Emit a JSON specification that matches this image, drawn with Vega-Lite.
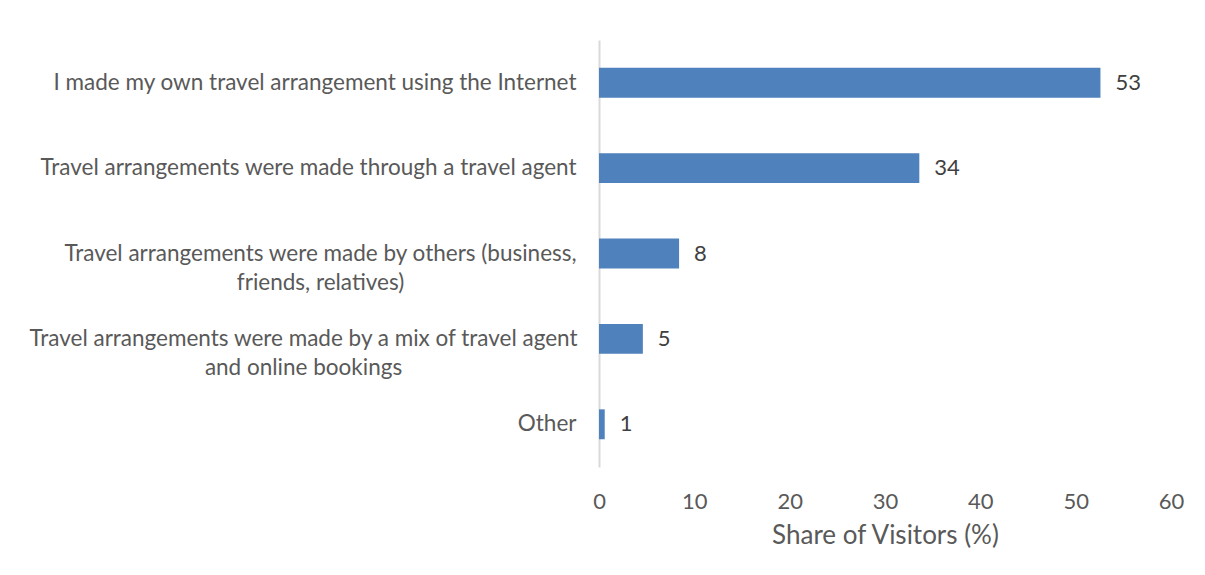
{
  "$schema": "https://vega.github.io/schema/vega-lite/v6.json",
  "autosize": {"type": "none"},
  "padding": {"left": 599, "top": 40, "right": 34, "bottom": 108},
  "width": 572,
  "height": 427,
  "background": "white",
  "config": {
    "view": {"stroke": null},
    "font": "Lato",
    "axis": {"labelFont": "Lato", "titleFont": "Lato"}
  },
  "data": {
    "values": [
      {"category": "I made my own travel arrangement using the Internet", "share": 52.6},
      {"category": "Travel arrangements were made through a travel agent", "share": 33.6},
      {"category": "Travel arrangements were made by others (business,\nfriends, relatives)", "share": 8.4},
      {"category": "Travel arrangements were made by a mix of travel agent\nand online bookings", "share": 4.6},
      {"category": "Other", "share": 0.6}
    ]
  },
  "encoding": {
    "y": {
      "field": "category",
      "type": "nominal",
      "sort": null,
      "scale": {"paddingInner": 0.65, "paddingOuter": 0.325},
      "axis": {
        "title": null,
        "ticks": false,
        "domainColor": "#D9D9D9",
        "domainWidth": 2,
        "labelAlign": {
          "condition": {"test": "indexof(datum.value, '\\n') >= 0", "value": "center"},
          "value": "right"
        },
        "labelPadding": {
          "condition": [
            {"test": "indexof(datum.value, '(business') >= 0", "value": 279},
            {"test": "indexof(datum.value, 'mix of') >= 0", "value": 296}
          ],
          "value": 23
        },
        "labelFontSize": 22.5,
        "labelColor": "#595959",
        "labelLimit": 700,
        "labelLineHeight": 29,
        "labelExpr": "split(datum.label, '\\n')"
      }
    },
    "x": {
      "field": "share",
      "type": "quantitative",
      "scale": {"domain": [0, 60], "nice": false},
      "axis": {
        "title": "Share of Visitors (%)",
        "values": [0, 10, 20, 30, 40, 50, 60],
        "grid": false,
        "domain": false,
        "ticks": false,
        "labelFlush": false,
        "labelPadding": 24,
        "labelFontSize": 22,
        "labelColor": "#595959",
        "titleFontSize": 26,
        "titleFontWeight": "normal",
        "titleColor": "#595959",
        "titlePadding": 10
      }
    }
  },
  "layer": [
    {"mark": {"type": "bar", "color": "#4F81BD"}},
    {
      "mark": {"type": "text", "align": "left", "baseline": "middle", "dx": 15, "fontSize": 22, "color": "#404040"},
      "encoding": {"text": {"field": "share", "type": "quantitative", "format": ".0f"}}
    }
  ]
}
